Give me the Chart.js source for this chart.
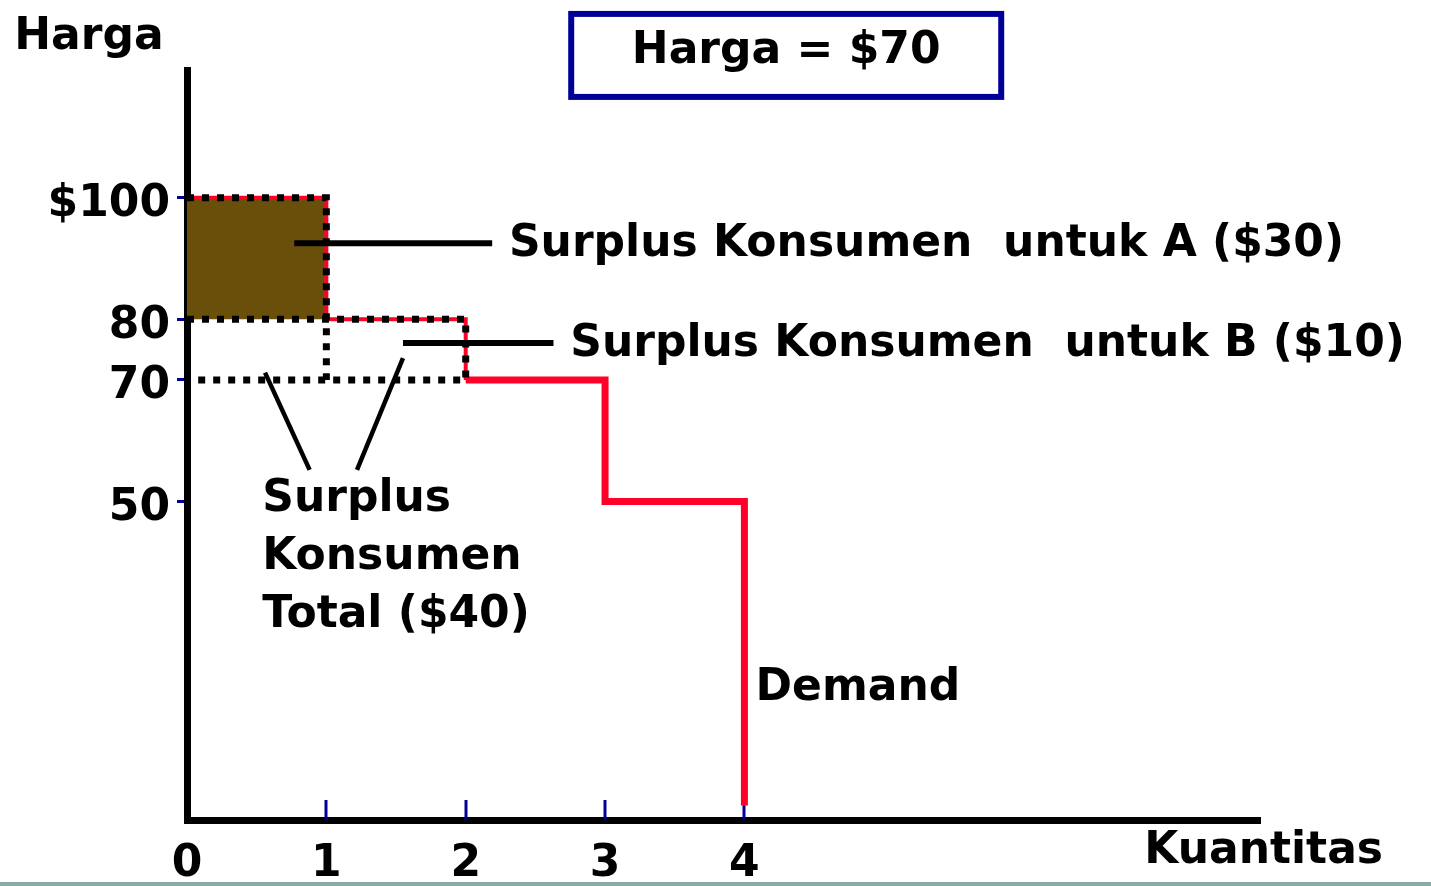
<!DOCTYPE html>
<html>
<head>
<meta charset="utf-8">
<title>Surplus Konsumen</title>
<script src="https://cdn.jsdelivr.net/npm/chart.js@4.4.1/dist/chart.umd.min.js"></script>
<style>
  html, body { margin: 0; padding: 0; background: #fff; overflow: hidden; }
  #chart { display: block; }
</style>
</head>
<body>
<canvas id="chart" width="1431" height="886"></canvas>
<script>
/************************ DATA **********************/
const consumers = ['A', 'B', 'C', 'D'];
const willingness = [100, 80, 70, 50];      // harga maksimum tiap konsumen
const marketPrice = 70;
const qtyTicks = [0, 1, 2, 3, 4];
const priceTicks = [50, 70, 80, 100];
const priceTickLabels = ['50', '70', '80', '$100'];

/*********************** STYLE **********************/
const FONT = '"DejaVu Sans", Verdana, sans-serif';
const RED = '#ff0028';
const BLUE = '#000099';
const BROWN = '#6a4f0b';

/******************** BUILD SERIES ******************/
// konsumen yang punya surplus (harga maks > harga pasar)
const withSurplus = willingness.filter(w => w > marketPrice).length;

function stepPoints(from, to) {
  const pts = [];
  for (let i = from; i < to; i++) {
    pts.push({ x: i, y: willingness[i] });
    pts.push({ x: i + 1, y: willingness[i] });
  }
  pts.push({ x: to, y: to < willingness.length ? willingness[to] : 0 });
  return pts;
}

const demandUpper = stepPoints(0, withSurplus);
const demandLower = stepPoints(withSurplus, willingness.length);

const outline = [
  { x: 0, y: willingness[0] }, { x: 1, y: willingness[0] }, { x: 1, y: marketPrice },
  { x: 1.5, y: null },
  { x: 0, y: willingness[1] }, { x: 2, y: willingness[1] }, { x: 2, y: marketPrice }, { x: 0, y: marketPrice }
];

const surplusA = [{ x: 0, y: willingness[0] }, { x: 1, y: willingness[0] }];

const surplusText = i =>
  `Surplus Konsumen  untuk ${consumers[i]} ($${willingness[i] - marketPrice})`;
const totalSurplus = willingness.slice(0, withSurplus).reduce((s, w) => s + w - marketPrice, 0);

/********************* ANNOTATIONS ******************/
const annotations = {
  id: 'annotations',
  beforeDatasetsDraw(chart) {
    const { ctx, chartArea, scales: { x } } = chart;
    ctx.save();
    ctx.strokeStyle = BLUE;
    ctx.lineWidth = 3;
    qtyTicks.slice(1).forEach(v => {
      const px = Math.round(x.getPixelForValue(v));
      ctx.beginPath();
      ctx.moveTo(px, chartArea.bottom - 20);
      ctx.lineTo(px, chartArea.bottom);
      ctx.stroke();
    });
    ctx.restore();
  },
  afterDraw(chart) {
    const { ctx, width, height, scales: { x, y } } = chart;
    const X = v => x.getPixelForValue(v);
    const Y = v => y.getPixelForValue(v);

    ctx.save();
    ctx.fillStyle = '#000';
    ctx.strokeStyle = '#000';
    ctx.font = `bold 44px ${FONT}`;
    ctx.textBaseline = 'middle';
    ctx.textAlign = 'left';

    const line = (x1, y1, x2, y2, w) => {
      ctx.lineWidth = w;
      ctx.beginPath();
      ctx.moveTo(X(x1), Y(y1));
      ctx.lineTo(X(x2), Y(y2));
      ctx.stroke();
    };

    // label surplus A
    line(0.77, 92.5, 2.19, 92.5, 6);
    ctx.fillText(surplusText(0), X(2.31), Y(92.2));

    // label surplus B
    line(1.55, 76.1, 2.63, 76.1, 6);
    ctx.fillText(surplusText(1), X(2.75), Y(75.75));

    // total
    line(0.56, 71.2, 0.88, 55.2, 4.5);
    line(1.55, 73.6, 1.22, 55.2, 4.5);
    ctx.fillText('Surplus', X(0.54), Y(50.25));
    ctx.fillText('Konsumen', X(0.54), Y(40.7));
    ctx.fillText(`Total ($${totalSurplus})`, X(0.54), Y(31.2));

    ctx.fillText('Demand', X(4.08), Y(19.3));
    ctx.fillText('Kuantitas', X(6.87), Y(-7.66));
    ctx.fillText('Harga', X(-1.24), Y(126.35));

    // kotak harga pasar
    const bx = X(4.3), by = Y(123.4);
    ctx.strokeStyle = BLUE;
    ctx.lineWidth = 6;
    ctx.strokeRect(bx - 215, by - 41.5, 430, 83);
    ctx.textAlign = 'center';
    ctx.fillText(`Harga = $${marketPrice}`, bx, Y(123.96));

    // strip bawah
    ctx.fillStyle = '#8aaca7';
    ctx.fillRect(0, height - 4, width, 4);
    ctx.restore();
  }
};

/************************ CHART *********************/
new Chart(document.getElementById('chart'), {
  type: 'line',
  data: {
    datasets: [
      {
        label: 'Surplus A',
        data: surplusA,
        fill: { value: willingness[1] },
        backgroundColor: BROWN,
        borderWidth: 0,
        borderColor: 'rgba(0,0,0,0)',
        order: 4
      },
      {
        label: 'Demand (A-B)',
        data: demandUpper,
        borderColor: RED,
        borderWidth: 4,
        fill: false,
        order: 3
      },
      {
        label: 'Demand',
        data: demandLower,
        borderColor: RED,
        borderWidth: 7,
        fill: false,
        order: 2
      },
      {
        label: 'Batas surplus',
        data: outline,
        borderColor: '#000',
        borderWidth: 7,
        borderDash: [7, 8],
        fill: false,
        spanGaps: false,
        order: 1
      }
    ]
  },
  options: {
    responsive: false,
    animation: false,
    devicePixelRatio: 1,
    layout: { padding: { top: 70, right: 171, left: 0, bottom: 0 } },
    elements: {
      point: { radius: 0, hoverRadius: 0 },
      line: { tension: 0, borderCapStyle: 'butt', borderJoinStyle: 'miter' }
    },
    plugins: {
      legend: { display: false },
      tooltip: { enabled: false }
    },
    scales: {
      x: {
        type: 'linear',
        min: 0,
        max: 7.7,
        afterBuildTicks: s => { s.ticks = qtyTicks.map(v => ({ value: v })); },
        afterFit: s => { s.height = 66; },
        grid: { display: false },
        border: { display: true, color: '#000', width: 7 },
        ticks: {
          color: '#000',
          padding: 10,
          font: { family: FONT, size: 44, weight: 'bold' },
          callback: v => String(v)
        }
      },
      y: {
        type: 'linear',
        min: -2.4,
        max: 121,
        afterBuildTicks: s => { s.ticks = priceTicks.map(v => ({ value: v })); },
        afterFit: s => { s.width = 187; },
        grid: {
          drawOnChartArea: false,
          drawTicks: true,
          tickLength: 10,
          tickColor: BLUE,
          tickWidth: 3
        },
        border: { display: true, color: '#000', width: 7 },
        ticks: {
          color: '#000',
          padding: 7,
          labelOffset: 7,
          font: { family: FONT, size: 44, weight: 'bold' },
          callback: v => priceTickLabels[priceTicks.indexOf(v)]
        }
      }
    }
  },
  plugins: [annotations]
});
</script>
</body>
</html>
